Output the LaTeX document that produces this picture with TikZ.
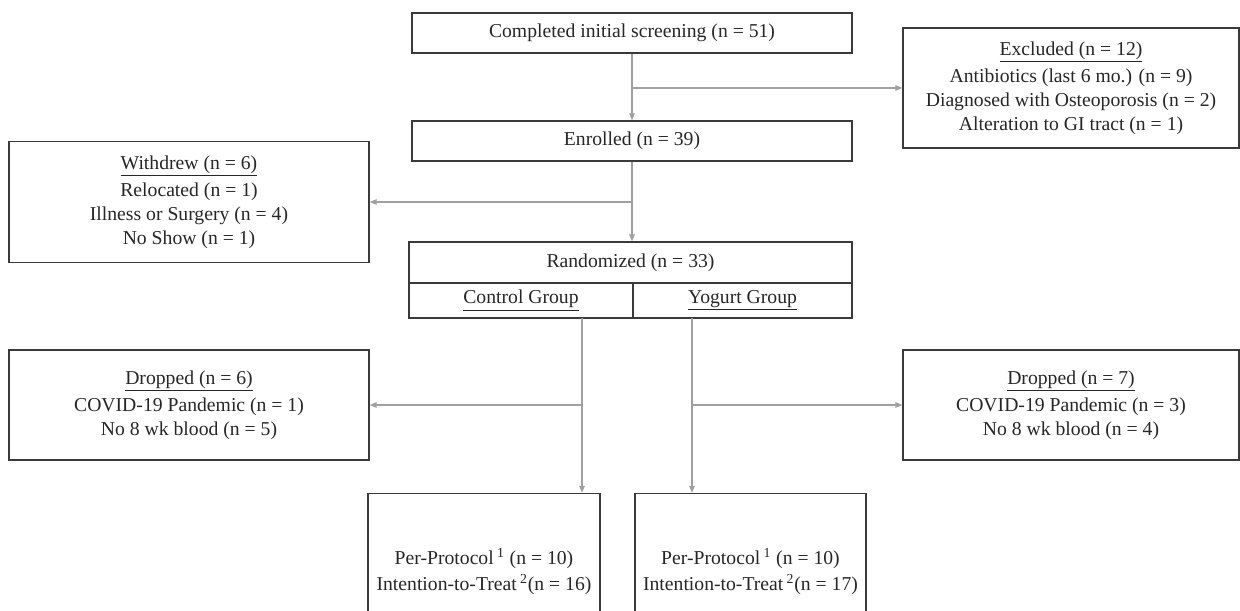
\documentclass[tikz,border=0pt]{standalone}
\usepackage{fontspec}
\setmainfont{Liberation Serif}
\usepackage{tikz}
\usetikzlibrary{arrows.meta}
\usepackage{xcolor}

\definecolor{boxline}{HTML}{3A3A3A}
\definecolor{arrowgray}{HTML}{A0A0A0}

\begin{document}
\begin{tikzpicture}[
x=0.02cm, y=-0.02cm,
font=\fontsize{11.2}{13.6}\selectfont,
box/.style={draw=boxline,
line width=0.8pt,
rectangle,
inner sep=0pt,
align=center,
text=black!85},
arrow/.style={-{Triangle[length=4pt, width=3.2pt]}, draw=arrowgray, line width=0.75pt}
]

\path[use as bounding box, clip] (0,0) rectangle (1240,611);

\node[box, minimum width=8.8cm, minimum height=0.8cm] (screen) at (632,33) {Completed initial screening (n = 51)};
\node[box, minimum width=6.72cm, minimum height=2.4cm] (excl) at (1071,88) {\underline{Excluded (n = 12)}\\[2pt] Antibiotics (last 6 mo.) (n = 9)\\ Diagnosed with Osteoporosis (n = 2)\\ Alteration to GI tract (n = 1)};
\node[box, minimum width=8.8cm, minimum height=0.8cm] (enrol) at (632,141) {Enrolled (n = 39)};
\node[box, minimum width=7.2cm, minimum height=2.42cm] (withdrew) at (189,202) {\underline{Withdrew (n = 6)}\\[2pt] Relocated (n = 1)\\ Illness or Surgery (n = 4)\\ No Show (n = 1)};
\node[box, minimum width=8.86cm, minimum height=0.82cm] (rand) at (630.5,262.5) {Randomized (n = 33)};
\node[box, minimum width=4.48cm, minimum height=0.7cm] (ctrl) at (521,300.5) {\underline{Control Group}};
\node[box, minimum width=4.38cm, minimum height=0.7cm] (yog) at (742.5,300.5) {\underline{Yogurt Group}};
\node[box, minimum width=7.2cm, minimum height=2.2cm] (dropL) at (189,405) {\underline{Dropped (n = 6)}\\[2pt] COVID-19 Pandemic (n = 1)\\ No 8 wk blood (n = 5)};
\node[box, minimum width=6.72cm, minimum height=2.2cm] (dropR) at (1071,405) {\underline{Dropped (n = 7)}\\[2pt] COVID-19 Pandemic (n = 3)\\ No 8 wk blood (n = 4)};
\node[box, minimum width=4.64cm, minimum height=3.12cm] (ppL) at (484,571.5) {Per-Protocol\,\textsuperscript{1} (n = 10)\\[1pt] Intention-to-Treat\,\textsuperscript{2}(n = 16)};
\node[box, minimum width=4.62cm, minimum height=3.12cm] (ppR) at (750.5,571.5) {Per-Protocol\,\textsuperscript{1} (n = 10)\\[1pt] Intention-to-Treat\,\textsuperscript{2}(n = 17)};

\coordinate (ctrlout) at (582,318);
\coordinate (yogout) at (692,318);

\draw[arrow] (screen.south) -- (enrol.north);
\draw[arrow] (screen.south |- excl.west) -- (excl.west);
\draw[arrow] (enrol.south) -- (enrol.south |- rand.north);
\draw[arrow] (enrol.south |- withdrew.east) -- (withdrew.east);
\draw[arrow] (ctrlout) -- (ctrlout |- ppL.north);
\draw[arrow] (ctrlout |- dropL.east) -- (dropL.east);
\draw[arrow] (yogout) -- (yogout |- ppR.north);
\draw[arrow] (yogout |- dropR.west) -- (dropR.west);

\end{tikzpicture}
\end{document}
